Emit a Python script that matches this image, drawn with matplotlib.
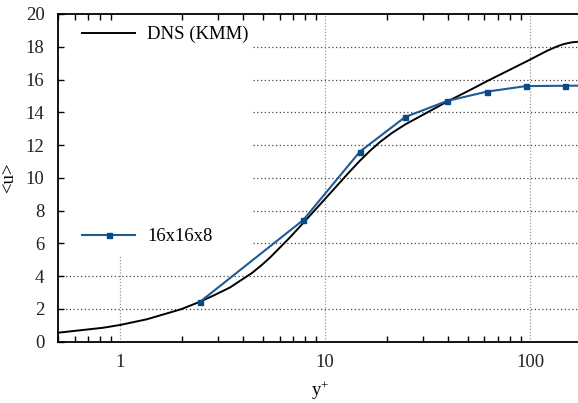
import matplotlib
matplotlib.use("Agg")
import matplotlib.pyplot as plt
from matplotlib.lines import Line2D

plt.rcParams["font.family"] = ["Liberation Serif", "DejaVu Serif"]
plt.rcParams["mathtext.fontset"] = "custom"
plt.rcParams["mathtext.rm"] = "Liberation Serif"
plt.rcParams["mathtext.it"] = "Liberation Serif:italic"

# DNS reference profile (Kim, Moin & Moser)
dns_yplus = [0.5, 0.826, 1.0, 1.354, 1.984, 2.456, 2.906, 3.44, 4.40, 4.872,
             5.39, 6.03, 6.75, 7.81, 9.45, 10.58, 11.84, 13.24, 14.82, 16.58,
             18.55, 21.22, 24.56, 28.10, 32.5, 39.4, 51.0, 61.7, 96.7, 121.0,
             135.4, 143.3, 151.5, 160.3, 169.6, 180.0]
dns_u = [0.55, 0.85, 1.02, 1.37, 1.98, 2.44, 2.86, 3.31, 4.19, 4.64,
         5.13, 5.75, 6.37, 7.23, 8.37, 9.05, 9.73, 10.4, 11.05, 11.65,
         12.19, 12.74, 13.25, 13.65, 14.08, 14.65, 15.36, 15.9, 17.12, 17.75,
         18.02, 18.13, 18.21, 18.27, 18.3, 18.32]

# LES on a 16x16x8 grid
les_yplus = [2.46, 7.84, 14.8, 24.6, 39.4, 61.5, 95.6, 148.0, 180.0]
les_u = [2.44, 7.43, 11.6, 13.71, 14.69, 15.26, 15.6, 15.62, 15.63]

dns_label = "DNS (KMM)"
les_label = "16x16x8"
y_ticks = [0, 2, 4, 6, 8, 10, 12, 14, 16, 18, 20]
x_ticks = [1, 10, 100]
x_ticklabels = ["1", "10", "100"]

W, H = 578, 403
fig = plt.figure(figsize=(W / 100, H / 100), dpi=100)
left, right, top, bottom = 58.3, 582.3, 14.0, 341.7
ax = fig.add_axes([left / W, 1 - bottom / H, (right - left) / W, (bottom - top) / H])

xmin, xmax = 0.5, 180.0
ax.set_xscale("log")
ax.set_xlim(xmin, xmax)
ax.set_ylim(0, 20)

blue_line = "#1d5b97"
blue_mark = "#0c4a86"

# dotted grid, kept clear of the key area in the upper left
key_x = 4.45
key_y = 5.29
for yv in y_ticks[1:-1]:
    x0 = key_x if yv > key_y else xmin
    ax.plot([x0, xmax], [yv, yv], ls=(0, (1, 2)), lw=0.9, color="#444444",
            zorder=0.5, clip_on=False)
for xv in x_ticks:
    y1 = key_y if xv < key_x else 20
    ax.plot([xv, xv], [0, y1], ls=(0, (1, 1.5)), lw=0.9, color="#999999",
            zorder=0.5)

ax.plot(dns_yplus, dns_u, color="black", lw=1.4, zorder=3, clip_on=False)
ax.plot(les_yplus, les_u, color=blue_line, lw=1.5, marker="s", ms=3.6,
        mfc=blue_mark, mec=blue_mark, zorder=4, clip_on=False)

ax.set_yticks(y_ticks)
ax.set_xticks(x_ticks)
ax.set_xticklabels(x_ticklabels)
ax.tick_params(axis="both", which="both", direction="in", labelsize=13.5,
               colors="black", labelcolor="#222222")
ax.tick_params(axis="y", which="major", length=4, width=1, right=False, pad=10)
ax.tick_params(axis="x", which="major", length=0, pad=9)
ax.tick_params(axis="x", which="minor", length=4, width=1, top=True)
ax.tick_params(axis="x", which="major", top=False)

for side in ["left", "bottom", "top"]:
    ax.spines[side].set_linewidth(1.3)
ax.spines["right"].set_visible(False)

ax.set_xlabel("y$^{+}$", fontsize=13.5, labelpad=6)
ax.set_ylabel("<u>", fontsize=13.5, labelpad=6)

h1 = Line2D([], [], color="black", lw=1.4)
h2 = Line2D([], [], color=blue_line, lw=1.5, marker="s", ms=3.6,
            mfc=blue_mark, mec=blue_mark)
leg_kw = dict(frameon=False, fontsize=13.5, handlelength=2.83,
              handletextpad=0.64, borderpad=0, borderaxespad=0,
              loc="center left")
leg1 = ax.legend([h1], [dns_label], bbox_to_anchor=(0.0452, 0.9368), **leg_kw)
ax.add_artist(leg1)
ax.legend([h2], [les_label], bbox_to_anchor=(0.0452, 0.3204), **leg_kw)

fig.savefig("out.png", dpi=100)
